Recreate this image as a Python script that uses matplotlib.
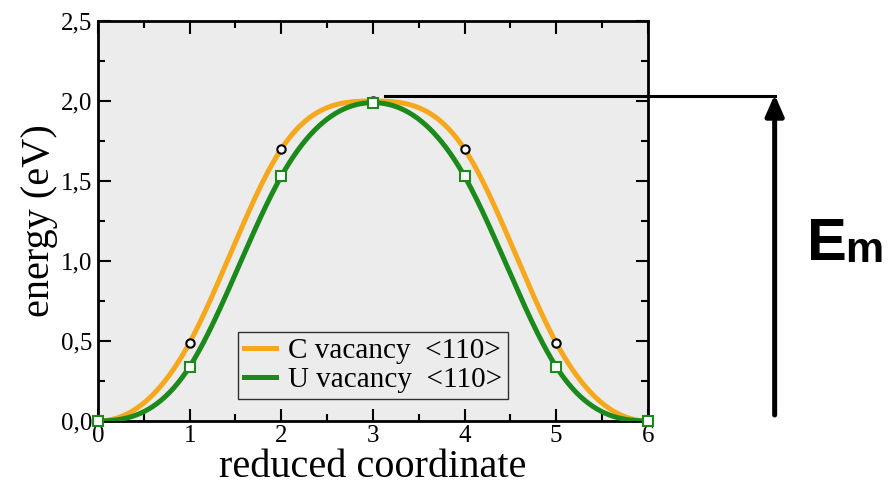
import numpy as np
import matplotlib.pyplot as plt
from matplotlib.ticker import MultipleLocator, FuncFormatter

# NEB images (reduced coordinate) and energies
coord = [0, 1, 2, 3, 4, 5, 6]
e_C = [0.0, 0.49, 1.70, 2.00, 1.70, 0.49, 0.0]
e_U = [0.0, 0.34, 1.53, 1.99, 1.53, 0.34, 0.0]
labels = ['C vacancy  <110>', 'U vacancy  <110>']
col_C = '#f5a81c'
col_U = '#1b8a1b'


def clamped_spline(x, y, xs):
    # cubic spline with zero slope at both ends
    x = np.asarray(x, float); y = np.asarray(y, float)
    n = len(x); h = np.diff(x)
    A = np.zeros((n, n)); r = np.zeros(n)
    A[0, 0], A[0, 1] = 2 * h[0], h[0]
    r[0] = 3 * (y[1] - y[0]) / h[0]
    A[-1, -2], A[-1, -1] = h[-1], 2 * h[-1]
    r[-1] = -3 * (y[-1] - y[-2]) / h[-1]
    for i in range(1, n - 1):
        A[i, i - 1], A[i, i], A[i, i + 1] = h[i - 1], 2 * (h[i - 1] + h[i]), h[i]
        r[i] = 3 * (y[i + 1] - y[i]) / h[i] - 3 * (y[i] - y[i - 1]) / h[i - 1]
    c = np.linalg.solve(A, r)
    b = (y[1:] - y[:-1]) / h - h * (2 * c[:-1] + c[1:]) / 3
    d = (c[1:] - c[:-1]) / (3 * h)
    idx = np.clip(np.searchsorted(x, xs) - 1, 0, n - 2)
    t = xs - x[idx]
    return y[idx] + b[idx] * t + c[idx] * t**2 + d[idx] * t**3


xs = np.linspace(0, 6, 400)

fig = plt.figure(figsize=(8.91, 4.86), dpi=100)
ax = fig.add_axes([0.110, 0.1337, 0.617, 0.823])
ax.set_facecolor('#ececec')

ax.plot(xs, clamped_spline(coord, e_C, xs), color=col_C, lw=3.6, label=labels[0], zorder=2)
ax.plot(xs, clamped_spline(coord, e_U, xs), color=col_U, lw=3.6, label=labels[1], zorder=3)
ax.plot(coord, e_C, 'o', ms=6, mfc='white', mec='black', mew=1.5, zorder=4, clip_on=False)
ax.plot(coord, e_U, 's', ms=7, mfc='white', mec=col_U, mew=1.5, zorder=5, clip_on=False)

ax.set_xlim(0, 6)
ax.set_ylim(0, 2.5)
ax.xaxis.set_major_locator(MultipleLocator(1))
ax.xaxis.set_minor_locator(MultipleLocator(0.5))
ax.yaxis.set_major_locator(MultipleLocator(0.5))
ax.yaxis.set_minor_locator(MultipleLocator(0.25))
ax.yaxis.set_major_formatter(FuncFormatter(lambda v, p: f'{v:.1f}'.replace('.', ',')))
ax.tick_params(which='both', direction='in', top=True, right=True, width=1.5)
ax.tick_params(which='major', length=9)
ax.tick_params(which='minor', length=5)
ax.tick_params(axis='x', which='major', pad=3)
ax.tick_params(axis='y', which='major', pad=4)
for lab in ax.get_xticklabels() + ax.get_yticklabels():
    lab.set_fontfamily('Liberation Serif')
    lab.set_fontsize(18)
for s in ax.spines.values():
    s.set_linewidth(2)

ax.set_xlabel('reduced coordinate', fontfamily='Liberation Serif', fontsize=29, labelpad=1)
ax.set_ylabel('energy (eV)', fontfamily='Liberation Serif', fontsize=29, labelpad=2)

leg = ax.legend(loc='lower center', bbox_to_anchor=(0.5, 0.055), prop={'family': 'Liberation Serif', 'size': 21},
                frameon=True, fancybox=False, edgecolor='black', handlelength=1.1,
                handletextpad=0.4, borderpad=0.2, labelspacing=0.1, borderaxespad=0)
leg.get_frame().set_linewidth(1.0)
leg.get_frame().set_facecolor('#ececec')

# migration energy marker
ax.plot([3.13, 7.385], [2.03, 2.03], color='black', lw=2.2, clip_on=False, zorder=6)
ax.annotate('', xy=(7.385, 2.04), xytext=(7.385, 0.0375), annotation_clip=False,
            arrowprops=dict(arrowstyle='-|>,head_width=0.55,head_length=1.25', color='black', lw=3.6,
                            shrinkA=0, shrinkB=0))
fig.text(0.906, 0.465, 'E', fontfamily=['Liberation Sans Narrow', 'Liberation Sans'], fontweight='bold',
         fontsize=43, ha='left', va='baseline')
fig.text(0.949, 0.461, 'm', fontfamily='Liberation Sans', fontweight='bold', fontsize=31, ha='left', va='baseline')

fig.savefig('out.png', dpi=100)
